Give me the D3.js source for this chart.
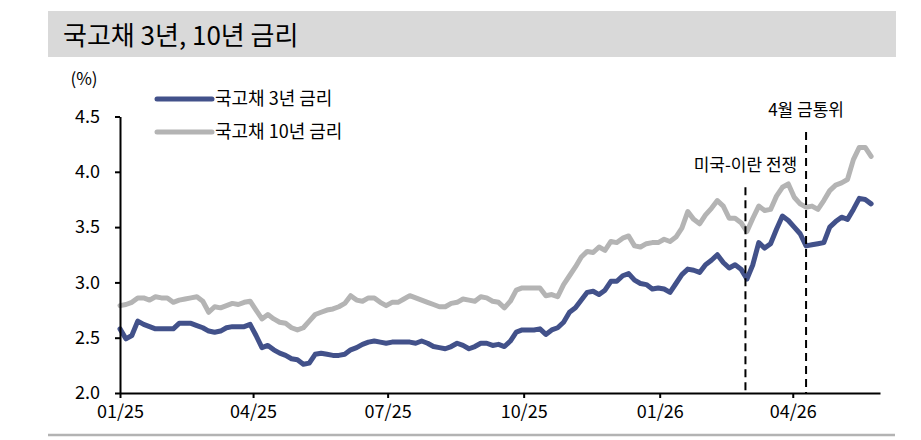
<!DOCTYPE html>
<html>
<head>
<meta charset="utf-8">
<script src="https://cdn.jsdelivr.net/npm/d3@7"></script>
<style>
  body { margin: 0; background: #fff; }
  text { font-family: "Noto Sans CJK KR", "Noto Sans", sans-serif; }
</style>
</head>
<body>
<div id="plot"></div>
<script>
// data, one point every 4 days
const dates = [
  "2025-01-01","2025-01-05","2025-01-09","2025-01-13","2025-01-17","2025-01-21","2025-01-25","2025-01-29",
  "2025-02-02","2025-02-06","2025-02-10","2025-02-14","2025-02-18","2025-02-22","2025-02-26",
  "2025-03-02","2025-03-06","2025-03-10","2025-03-14","2025-03-18","2025-03-22","2025-03-26","2025-03-30",
  "2025-04-03","2025-04-07","2025-04-11","2025-04-15","2025-04-19","2025-04-23","2025-04-27",
  "2025-05-01","2025-05-05","2025-05-09","2025-05-13","2025-05-17","2025-05-21","2025-05-25","2025-05-29",
  "2025-06-02","2025-06-06","2025-06-10","2025-06-14","2025-06-18","2025-06-22","2025-06-26","2025-06-30",
  "2025-07-04","2025-07-08","2025-07-12","2025-07-16","2025-07-20","2025-07-24","2025-07-28",
  "2025-08-01","2025-08-05","2025-08-09","2025-08-13","2025-08-17","2025-08-21","2025-08-25","2025-08-29",
  "2025-09-02","2025-09-06","2025-09-10","2025-09-14","2025-09-18","2025-09-22","2025-09-26","2025-09-30",
  "2025-10-04","2025-10-08","2025-10-12","2025-10-16","2025-10-20","2025-10-24","2025-10-28",
  "2025-11-01","2025-11-05","2025-11-09","2025-11-13","2025-11-17","2025-11-21","2025-11-25","2025-11-29",
  "2025-12-03","2025-12-07","2025-12-11","2025-12-15","2025-12-19","2025-12-23","2025-12-27","2025-12-31",
  "2026-01-04","2026-01-08","2026-01-12","2026-01-16","2026-01-20","2026-01-24","2026-01-28",
  "2026-02-01","2026-02-05","2026-02-09","2026-02-13","2026-02-17","2026-02-21","2026-02-25",
  "2026-03-01","2026-03-05","2026-03-09","2026-03-13","2026-03-17","2026-03-21","2026-03-25","2026-03-29",
  "2026-04-02","2026-04-06","2026-04-10","2026-04-14","2026-04-18","2026-04-22","2026-04-26","2026-04-30",
  "2026-05-04","2026-05-08","2026-05-12","2026-05-16","2026-05-20","2026-05-24"
];

const rate3y = [
  2.58,2.49,2.52,2.65,2.62,2.60,2.58,2.58,
  2.58,2.58,2.63,2.63,2.63,2.61,2.59,
  2.56,2.55,2.56,2.59,2.60,2.60,2.60,2.62,
  2.52,2.41,2.43,2.39,2.36,2.34,2.31,
  2.30,2.26,2.27,2.35,2.36,2.35,2.34,2.34,
  2.35,2.39,2.41,2.44,2.46,2.47,2.46,2.45,
  2.46,2.46,2.46,2.46,2.45,2.47,2.45,
  2.42,2.41,2.40,2.42,2.45,2.43,2.40,2.42,
  2.45,2.45,2.43,2.44,2.42,2.47,2.55,2.57,
  2.57,2.57,2.58,2.53,2.57,2.59,2.64,
  2.73,2.77,2.84,2.91,2.92,2.89,2.93,3.01,
  3.01,3.06,3.08,3.02,2.99,2.98,2.94,2.95,
  2.94,2.91,2.99,3.07,3.12,3.11,3.09,
  3.16,3.20,3.25,3.18,3.13,3.16,3.12,
  3.03,3.16,3.36,3.31,3.35,3.48,3.60,3.56,
  3.50,3.44,3.33,3.34,3.35,3.36,3.50,3.55,
  3.59,3.57,3.66,3.76,3.75,3.71
];

const rate10y = [
  2.79,2.80,2.82,2.86,2.86,2.84,2.87,2.86,
  2.86,2.82,2.84,2.85,2.86,2.87,2.83,
  2.73,2.78,2.77,2.79,2.81,2.80,2.82,2.83,
  2.75,2.67,2.71,2.67,2.64,2.63,2.59,
  2.57,2.59,2.65,2.71,2.73,2.75,2.76,2.78,
  2.81,2.88,2.84,2.83,2.86,2.86,2.82,2.79,
  2.82,2.82,2.85,2.88,2.86,2.84,2.82,
  2.80,2.78,2.78,2.81,2.82,2.85,2.84,2.83,
  2.87,2.86,2.83,2.82,2.77,2.83,2.93,2.95,
  2.95,2.95,2.95,2.88,2.89,2.87,2.98,
  3.06,3.14,3.23,3.28,3.27,3.32,3.29,3.37,
  3.36,3.40,3.42,3.33,3.32,3.35,3.36,3.36,
  3.39,3.37,3.41,3.49,3.64,3.57,3.53,
  3.61,3.67,3.74,3.69,3.58,3.58,3.54,
  3.46,3.58,3.69,3.65,3.66,3.78,3.86,3.89,
  3.77,3.71,3.68,3.69,3.66,3.74,3.83,3.88,
  3.90,3.93,4.11,4.22,4.22,4.14
];

const seriesNames = ["국고채 3년 금리", "국고채 10년 금리"];
const seriesColors = ["#42518a", "#b4b4b4"];

const xTicks = ["2025-01-01","2025-04-01","2025-07-01","2025-10-01","2026-01-01","2026-04-01"];
const yTicks = [2.0, 2.5, 3.0, 3.5, 4.0, 4.5];

const eventDates = ["2026-02-28", "2026-04-10"];
const eventLabels = ["미국-이란 전쟁", "4월 금통위"];
const eventTops = [3.86, 4.36];

const title = "국고채 3년, 10년 금리";

// sizes
const w = 921;
const h = 440;
const margin = {top: 116.5, right: 40, bottom: 47, left: 120};

const parse = d3.timeParse("%Y-%m-%d");

const svg = d3.select("div#plot")
  .append("svg")
    .attr("width", w)
    .attr("height", h);

// title band
svg.append("rect")
  .attr("x", 48)
  .attr("y", 11)
  .attr("width", 848)
  .attr("height", 46)
  .attr("fill", "#d9d9d9");

svg.append("text")
  .attr("x", 63)
  .attr("y", 45)
  .attr("font-size", 26)
  .attr("fill", "#000")
  .text(title);

// bottom rule
svg.append("line")
  .attr("x1", 48)
  .attr("x2", 895)
  .attr("y1", 435)
  .attr("y2", 435)
  .attr("stroke", "#b3b3b3")
  .attr("stroke-width", 2.5);

const xScale = d3.scaleTime()
  .domain([parse("2025-01-01"), parse("2026-05-30")])
  .range([margin.left, 880]);

const yScale = d3.scaleLinear()
  .domain([2, 4.5])
  .range([h - margin.bottom, margin.top]);

// lines (10y drawn first, under the 3y)
const line = d3.line()
  .x(d => xScale(d.date))
  .y(d => yScale(d.value))
  .curve(d3.curveLinear);

const series = [rate3y, rate10y].map((vals, i) => ({
  name: seriesNames[i],
  color: seriesColors[i],
  values: vals.map((v, j) => ({date: parse(dates[j]), value: v}))
}));

svg.append("g")
  .selectAll("path")
  .data(series.slice().reverse())
  .enter()
  .append("path")
    .attr("d", d => line(d.values))
    .attr("fill", "none")
    .attr("stroke", d => d.color)
    .attr("stroke-width", 5)
    .attr("stroke-linejoin", "round")
    .attr("stroke-linecap", "round");

// event markers
const events = eventDates.map((d, i) => ({date: parse(d), label: eventLabels[i], top: eventTops[i]}));

svg.append("g")
  .selectAll("line")
  .data(events)
  .enter()
  .append("line")
    .attr("x1", d => xScale(d.date))
    .attr("x2", d => xScale(d.date))
    .attr("y1", d => yScale(d.top))
    .attr("y2", yScale(2))
    .attr("stroke", "#000")
    .attr("stroke-width", 2)
    .attr("stroke-dasharray", "8,5");

svg.append("g")
  .selectAll("text")
  .data(events)
  .enter()
  .append("text")
    .attr("x", d => xScale(d.date))
    .attr("y", d => yScale(d.top) - 16)
    .attr("text-anchor", "middle")
    .attr("font-size", 17)
    .attr("fill", "#000")
    .text(d => d.label);

// axes
const xAxis = d3.axisBottom(xScale)
  .tickValues(xTicks.map(parse))
  .tickFormat(d3.timeFormat("%m/%y"))
  .tickSize(5)
  .tickSizeOuter(0)
  .tickPadding(7);

const yAxis = d3.axisLeft(yScale)
  .tickValues(yTicks)
  .tickFormat(d3.format(".1f"))
  .tickSize(5)
  .tickSizeOuter(0)
  .tickPadding(15);

const gx = svg.append("g")
  .attr("transform", `translate(0, ${h - margin.bottom})`)
  .call(xAxis);

const gy = svg.append("g")
  .attr("transform", `translate(${margin.left}, 0)`)
  .call(yAxis);

[gx, gy].forEach(g => {
  g.select(".domain").attr("stroke", "#000").attr("stroke-width", 2);
  g.selectAll(".tick line").attr("stroke", "#000").attr("stroke-width", 2);
  g.selectAll(".tick text")
    .attr("fill", "#000")
    .attr("font-size", 18)
    .attr("font-family", "'Noto Sans CJK KR', 'Noto Sans', sans-serif");
});

// unit label
svg.append("text")
  .attr("x", 84)
  .attr("y", 85)
  .attr("text-anchor", "middle")
  .attr("font-size", 17)
  .attr("fill", "#000")
  .text("(%)");

// legend
const legend = svg.append("g")
  .selectAll("g")
  .data(series)
  .enter()
  .append("g")
    .attr("transform", (d, i) => `translate(157, ${99 + i * 33})`);

legend.append("line")
  .attr("x1", 0)
  .attr("x2", 55)
  .attr("stroke", d => d.color)
  .attr("stroke-width", 5)
  .attr("stroke-linecap", "round");

legend.append("text")
  .attr("x", 58)
  .attr("y", 6)
  .attr("font-size", 18)
  .attr("fill", "#000")
  .text(d => d.name);
</script>
</body>
</html>
